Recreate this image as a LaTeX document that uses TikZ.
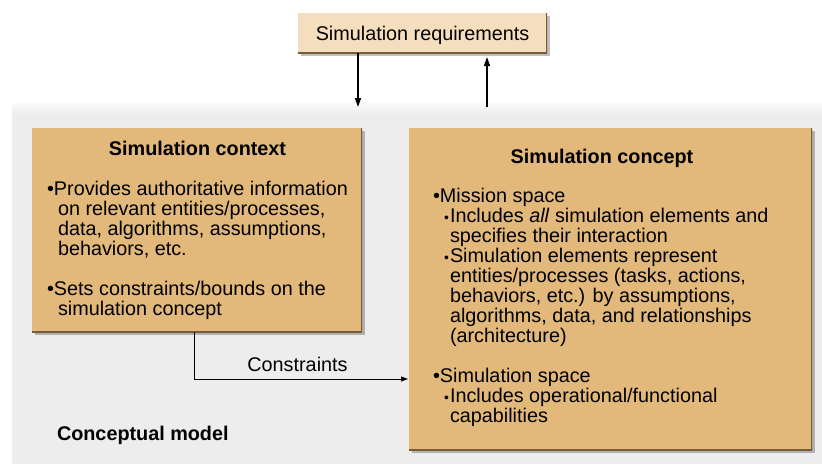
\documentclass[tikz,border=0pt]{standalone}
\usepackage{fontspec}
\setmainfont{Liberation Sans}
\usetikzlibrary{arrows.meta,shadows}
\definecolor{BoxTan}{RGB}{227,185,123}
\definecolor{ReqTan}{RGB}{244,222,190}
\definecolor{Bevel}{RGB}{120,92,55}
\definecolor{ModelGray}{RGB}{237,237,238}
\newcommand{\bul}{\makebox[7pt][l]{•}}
\newcommand{\sbul}{\hspace*{11pt}\makebox[6pt][l]{\scalebox{.7}{•}}}

\begin{document}
\begin{tikzpicture}[x=1pt,y=-1pt,
  every node/.style={font=\fontsize{19.8}{20}\selectfont,inner sep=0pt,outer sep=0pt},
  tanbox/.style={fill=BoxTan,anchor=north west,
    drop shadow={shadow xshift=3pt,shadow yshift=-3pt,fill=black,opacity=.25},
    path picture={\draw[Bevel,line width=3pt] (path picture bounding box.north east) -- (path picture bounding box.south east) -- (path picture bounding box.south west);}},
  flow/.style={line width=1.4pt,-{Triangle[length=9pt,width=6pt]}},
  thinflow/.style={line width=.8pt,-{Triangle[length=7pt,width=5pt]}},
  bodytext/.style={align=left,anchor=base west}]
\useasboundingbox (0,0) rectangle (822,464);
\fill[ModelGray] (12,108) rectangle (822,464);
\shade[top color=white,bottom color=ModelGray] (12,100) rectangle (822,114);

\node[tanbox,fill=ReqTan,minimum width=249pt,minimum height=40pt] (req) at (298,13) {};
\node[anchor=base] (reqtext) at (req.center |- 0,40) {Simulation requirements};

\node[tanbox,minimum width=330pt,minimum height=204pt] (context) at (32,128) {};
\node[anchor=base,font=\fontsize{19.8}{20}\selectfont\bfseries] (contexttitle) at (197.5,155) {Simulation context};
\node[bodytext] (contexttext) at (47,315) {\bul Provides authoritative information\\
\hspace*{11pt}on relevant entities/processes,\\
\hspace*{11pt}data, algorithms, assumptions,\\
\hspace*{11pt}behaviors, etc.\\[20pt]
\bul Sets constraints/bounds on the\\
\hspace*{11pt}simulation concept};

\node[tanbox,minimum width=403pt,minimum height=322pt] (concept) at (409,128) {};
\node[anchor=base,font=\fontsize{19.8}{20}\selectfont\bfseries] (concepttitle) at (602,163) {Simulation concept};
\node[bodytext] (concepttext) at (433,422) {\bul Mission space\\
\sbul Includes \textit{all} simulation elements and\\
\hspace*{17pt}specifies their interaction\\
\sbul Simulation elements represent\\
\hspace*{17pt}entities/processes (tasks, actions,\\
\hspace*{17pt}behaviors, etc.) by assumptions,\\
\hspace*{17pt}algorithms, data, and relationships\\
\hspace*{17pt}(architecture)\\[20pt]
\bul Simulation space\\
\sbul Includes operational/functional\\
\hspace*{17pt}capabilities};

\coordinate (inflow) at (358,107);
\coordinate (outflow) at (487,107);
\coordinate (split) at (194,379);
\draw[flow] (req.south -| inflow) -- (inflow);
\draw[flow,shorten >=4pt] (outflow) -- (req.south -| outflow);
\draw[thinflow,shorten >=1pt] (context.south -| split) |- (concept.west |- split);
\node[anchor=base] (constraints) at (297.5,371) {Constraints};
\node[anchor=base west,font=\fontsize{19.8}{20}\selectfont\bfseries] (model) at (57,440) {Conceptual model};
\end{tikzpicture}
\end{document}
